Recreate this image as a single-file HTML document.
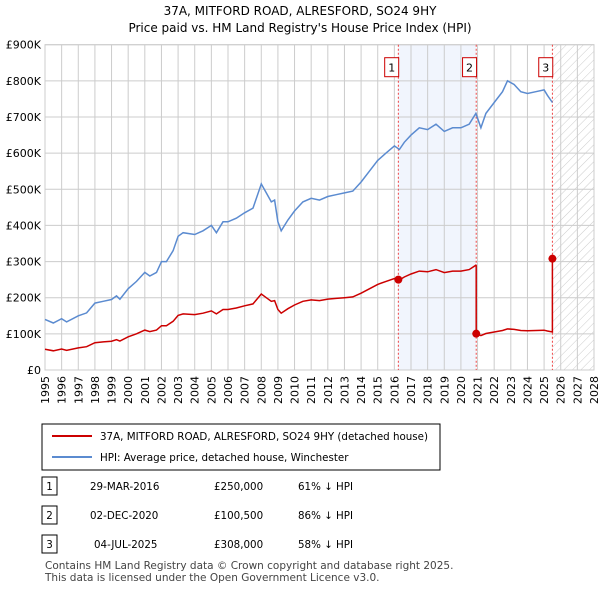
<!DOCTYPE html>
<html><head><meta charset="utf-8"><style>
body{margin:0;background:#fff;font-family:"DejaVu Sans",sans-serif;}
</style></head><body>
<svg width="600" height="590" xmlns="http://www.w3.org/2000/svg" font-family="DejaVu Sans, sans-serif">
<defs><pattern id="hatch" width="6" height="6" patternUnits="userSpaceOnUse" patternTransform="rotate(45)"><line x1="0" y1="0" x2="0" y2="6" stroke="#ccc" stroke-width="1"/></pattern></defs>
<text x="300" y="15" text-anchor="middle" font-size="12">37A, MITFORD ROAD, ALRESFORD, SO24 9HY</text>
<text x="300" y="32" text-anchor="middle" font-size="12">Price paid vs. HM Land Registry's House Price Index (HPI)</text>
<g id="plot"></g>
<g>
<rect x="42" y="424" width="398" height="46" fill="#fff" stroke="#000"/>
<line x1="52" y1="436" x2="92" y2="436" stroke="#cc0000" stroke-width="2"/>
<text x="100" y="440" font-size="10.3">37A, MITFORD ROAD, ALRESFORD, SO24 9HY (detached house)</text>
<line x1="52" y1="457" x2="92" y2="457" stroke="#5b8bd0" stroke-width="2"/>
<text x="100" y="461" font-size="10.3">HPI: Average price, detached house, Winchester</text>
</g>
<g font-size="10.3">
<rect x="42" y="477" width="15" height="18" fill="#fff" stroke="#000"/><text x="49.5" y="490" text-anchor="middle">1</text>
<text x="90" y="490">29-MAR-2016</text><text x="214" y="490">£250,000</text><text x="298" y="490">61% ↓ HPI</text>
<rect x="42" y="506" width="15" height="18" fill="#fff" stroke="#000"/><text x="49.5" y="519" text-anchor="middle">2</text>
<text x="90" y="519">02-DEC-2020</text><text x="214" y="519">£100,500</text><text x="298" y="519">86% ↓ HPI</text>
<rect x="42" y="535" width="15" height="18" fill="#fff" stroke="#000"/><text x="49.5" y="548" text-anchor="middle">3</text>
<text x="94" y="548">04-JUL-2025</text><text x="214" y="548">£308,000</text><text x="298" y="548">58% ↓ HPI</text>
</g>
<text x="45" y="569" font-size="10.5" fill="#444">Contains HM Land Registry data © Crown copyright and database right 2025.</text>
<text x="45" y="581" font-size="10.5" fill="#444">This data is licensed under the Open Government Licence v3.0.</text>
</svg>
<script>
const hpiYears=[1995,1995.5,1996,1996.3,1997,1997.5,1998,1998.5,1999,1999.3,1999.5,2000,2000.5,2001,2001.3,2001.7,2002,2002.3,2002.7,2003,2003.3,2004,2004.5,2005,2005.3,2005.7,2006,2006.5,2007,2007.5,2008,2008.3,2008.6,2008.8,2009,2009.2,2009.6,2010,2010.5,2011,2011.5,2012,2012.5,2013,2013.5,2014,2014.5,2015,2015.5,2016,2016.3,2016.6,2017,2017.5,2018,2018.5,2019,2019.5,2020,2020.5,2020.9,2021.2,2021.5,2022,2022.5,2022.8,2023.2,2023.6,2024,2024.5,2025,2025.2,2025.5];
const hpiValues=[140,130,142,133,150,158,185,190,195,205,196,225,245,270,260,270,300,300,330,370,380,375,385,400,380,410,410,420,435,448,515,490,465,470,410,385,415,440,465,475,470,480,485,490,495,520,550,580,600,620,610,630,650,670,665,680,660,670,670,680,710,670,710,740,770,800,790,770,765,770,775,760,740];
const saleYears=[2016.24,2020.92,2025.5];
const salePrices=[250,100.5,308];
const saleLabels=["1","2","3"];
const yTicks=[0,100,200,300,400,500,600,700,800,900];
const yTickLabels=["£0","£100K","£200K","£300K","£400K","£500K","£600K","£700K","£800K","£900K"];
const xStart=1995,xEnd=2028;
const X0=45,X1=594,Y0=370,Y1=44.7;
const sx=y=>X0+(y-xStart)/(xEnd-xStart)*(X1-X0);
const sy=v=>Y0-v/900*(Y0-Y1);
const NS="http://www.w3.org/2000/svg";
const g=document.getElementById('plot');
function mk(t,a,p){const e=document.createElementNS(NS,t);for(const k in a)e.setAttribute(k,a[k]);(p||g).appendChild(e);return e;}
function hpiAt(y){for(let i=1;i<hpiYears.length;i++){if(y<=hpiYears[i]){const t=(y-hpiYears[i-1])/(hpiYears[i]-hpiYears[i-1]);return hpiValues[i-1]+t*(hpiValues[i]-hpiValues[i-1]);}}return hpiValues[hpiValues.length-1];}
let e=mk('rect',{x:sx(saleYears[0]),y:Y1,width:sx(saleYears[1])-sx(saleYears[0]),height:Y0-Y1,fill:'#f1f5fd'});


e=mk('rect',{x:sx(saleYears[2]),y:Y1,width:X1-sx(saleYears[2]),height:Y0-Y1,fill:'url(#hatch)'});


for(let yr=xStart;yr<=xEnd;yr++){
 e=mk('line',{x1:sx(yr),x2:sx(yr),y1:Y1,y2:Y0,stroke:'#ccc'});
 
 
 e=mk('text',{transform:`translate(${sx(yr)+4},${Y0+6}) rotate(-90)`,'text-anchor':'end','font-size':'11'});
 e.textContent=yr;
 
 
}
yTicks.forEach((v,i)=>{
 e=mk('line',{x1:X0,x2:X1,y1:sy(v),y2:sy(v),stroke:'#ccc'});
 
 
 e=mk('text',{x:X0-4,y:sy(v)+4,'text-anchor':'end','font-size':'11'});
 e.textContent=yTickLabels[i];
 
 
});
e=mk('rect',{x:X0,y:Y1,width:X1-X0,height:Y0-Y1,fill:'none',stroke:'#ccc'});


saleYears.forEach((s,i)=>{
 e=mk('line',{x1:sx(s),x2:sx(s),y1:Y1,y2:Y0,stroke:'#e44','stroke-dasharray':'2,2'});
 
 
 e=mk('rect',{x:sx(s)-20/3-7,y:Y1+13,width:14,height:19,fill:'#fff',stroke:'#cc0000'});
 
 
 e=mk('text',{x:sx(s)-20/3,y:Y1+27,'text-anchor':'middle','font-size':'11'});
 e.textContent=saleLabels[i];
 
 
});
let d=hpiYears.map((y,i)=>(i?'L':'M')+sx(y).toFixed(1)+','+sy(hpiValues[i]).toFixed(1)).join('');
e=mk('path',{d:d,fill:'none',stroke:'#5b8bd0','stroke-width':1.5});


let pts=[];
const segStarts=[xStart].concat(saleYears);
for(let s=0;s<segStarts.length-1;s++){
 const a=segStarts[s],b=segStarts[s+1];
 const refY=s===0?saleYears[0]:saleYears[s-1];
 const refP=s===0?salePrices[0]:salePrices[s-1];
 const r=refP/hpiAt(refY);
 const ys=[a].concat(hpiYears.filter(y=>y>a&&y<b)).concat([b]);
 ys.forEach(y=>pts.push([y,hpiAt(y)*r]));
}
pts.push([saleYears[2],salePrices[2]]);
d='';pts.forEach((p,i)=>{d+=(i?'L':'M')+sx(p[0]).toFixed(1)+','+sy(p[1]).toFixed(1);});
e=mk('path',{d:d,fill:'none',stroke:'#cc0000','stroke-width':1.5});


saleYears.forEach((s,i)=>{
 e=mk('circle',{cx:sx(s),cy:sy(salePrices[i]),r:4,fill:'#cc0000'});
 
 
});
</script>
</body></html>
